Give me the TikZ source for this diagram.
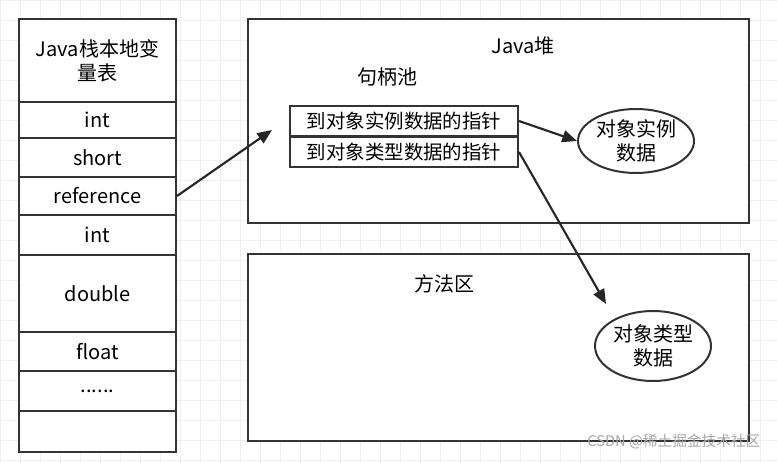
\documentclass[tikz,border=0pt]{standalone}
\usepackage{fontspec}
\setmainfont{Noto Sans CJK SC}
\usetikzlibrary{shapes.geometric,arrows.meta}
\begin{document}
\begin{tikzpicture}[x=0.75pt,y=-0.75pt,
  box/.style={draw=black!80,line width=1.5pt},
  cell/.style={box,fill=white,minimum width=157*0.75pt,anchor=north west,inner sep=0pt,font=\fontsize{15}{18}\selectfont},
  hbox/.style={box,fill=white,minimum width=228*0.75pt,minimum height=30*0.75pt,inner sep=0pt,font=\fontsize{14.6}{17}\selectfont},
  ell/.style={box,ellipse,fill=white,minimum width=116*0.75pt,inner sep=0pt,align=center,font=\fontsize{15}{18}\selectfont},
  arr/.style={draw=black!85,line width=1.6pt,-{Triangle[length=11pt,width=9pt]}},
  lbl/.style={font=\fontsize{15}{18}\selectfont}]
\useasboundingbox (0,0) rectangle (777,463);
\fill[white] (0,0) rectangle (777,463);
\draw[black!6,line width=0.5pt] (0,0) grid[step=20*0.75pt] (777,463);
% left column
\node[cell,minimum height=83*0.75pt,align=center] (t) at (18,18) {Java栈本地变\\量表};
\node[cell,minimum height=36*0.75pt] (r1) at (18,101) {int};
\node[cell,minimum height=39*0.75pt] (r2) at (18,137) {short};
\node[cell,minimum height=38*0.75pt] (r3) at (18,176) {reference};
\node[cell,minimum height=40*0.75pt] (r4) at (18,214) {int};
\node[cell,minimum height=77*0.75pt] (r5) at (18,254) {double};
\node[cell,minimum height=39*0.75pt] (r6) at (18,331) {float};
\node[cell,minimum height=40*0.75pt] (r7) at (18,370) {......};
\node[cell,minimum height=41*0.75pt] (r8) at (18,410) {};
% heap
\node[box,fill=white,minimum width=501*0.75pt,minimum height=204*0.75pt,anchor=north west] (heap) at (247,18) {};
\node[lbl] (hl) at (523,46) {Java堆};
\node[lbl] (hp) at (387,77) {句柄池};
\node[hbox] (p1) at (404,121) {到对象实例数据的指针};
\node[hbox] (p2) at (404,152) {到对象类型数据的指针};
\node[ell,minimum height=64*0.75pt] (e1) at (636,141) {对象实例\\数据};
% method area
\node[box,fill=white,minimum width=501*0.75pt,minimum height=187*0.75pt,anchor=north west] (meth) at (247,253) {};
\node[lbl] (ml) at (444,284) {方法区};
\node[ell,minimum height=70*0.75pt] (e2) at (653,346) {对象类型\\数据};
% arrows
\coordinate (a1) at (272,130);
\draw[arr] (r3.east) -- (a1);
\draw[arr] (p1.east) -- (e1.west);
\coordinate (a3) at (606,304);
\draw[arr] (p2.east) -- (a3);
\node[black!35,font=\fontsize{11}{13}\selectfont,anchor=east] (wm) at (765,442) {CSDN @稀土掘金技术社区};
\end{tikzpicture}
\end{document}
